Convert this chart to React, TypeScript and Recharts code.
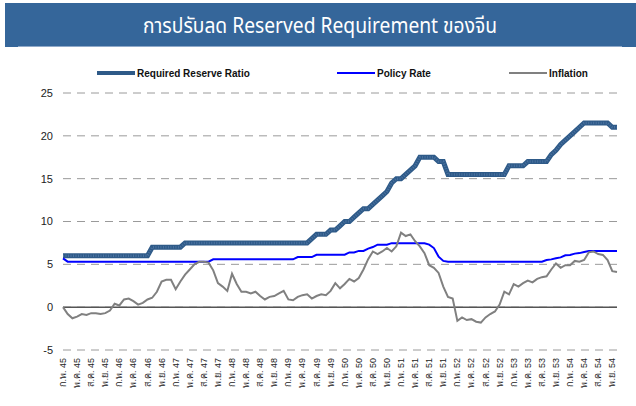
import React from 'react';
import { LineChart, Line, XAxis, YAxis, CartesianGrid, ReferenceLine } from 'recharts';

// Thai month abbreviations and Buddhist-era years (2545-2554 shown as 45-54)
const monthNames = ['ม.ค.', 'ก.พ.', 'มี.ค.', 'เม.ย.', 'พ.ค.', 'มิ.ย.', 'ก.ค.', 'ส.ค.', 'ก.ย.', 'ต.ค.', 'พ.ย.', 'ธ.ค.'];
const years = [45, 46, 47, 48, 49, 50, 51, 52, 53, 54];

// monthly series, ก.พ. 45 .. ธ.ค. 54
const rrr = [
  6, 6, 6, 6, 6, 6, 6, 6, 6, 6, 6,
  6, 6, 6, 6, 6, 6, 6, 6, 7, 7, 7, 7,
  7, 7, 7, 7.5, 7.5, 7.5, 7.5, 7.5, 7.5, 7.5, 7.5, 7.5,
  7.5, 7.5, 7.5, 7.5, 7.5, 7.5, 7.5, 7.5, 7.5, 7.5, 7.5, 7.5,
  7.5, 7.5, 7.5, 7.5, 7.5, 7.5, 8, 8.5, 8.5, 8.5, 9, 9,
  9.5, 10, 10, 10.5, 11, 11.5, 11.5, 12, 12.5, 13, 13.5, 14.5,
  15, 15, 15.5, 16, 16.5, 17.5, 17.5, 17.5, 17.5, 17, 17, 15.5,
  15.5, 15.5, 15.5, 15.5, 15.5, 15.5, 15.5, 15.5, 15.5, 15.5, 15.5, 15.5,
  16.5, 16.5, 16.5, 16.5, 17, 17, 17, 17, 17, 17.8, 18.3, 19,
  19.5, 20, 20.5, 21, 21.5, 21.5, 21.5, 21.5, 21.5, 21.5, 21, 21,
];

const policyRate = [
  5.7, 5.31, 5.31, 5.31, 5.31, 5.31, 5.31, 5.31, 5.31, 5.31, 5.31,
  5.31, 5.31, 5.31, 5.31, 5.31, 5.31, 5.31, 5.31, 5.31, 5.31, 5.31, 5.31,
  5.31, 5.31, 5.31, 5.31, 5.31, 5.31, 5.31, 5.31, 5.31, 5.58, 5.58, 5.58,
  5.58, 5.58, 5.58, 5.58, 5.58, 5.58, 5.58, 5.58, 5.58, 5.58, 5.58, 5.58,
  5.58, 5.58, 5.58, 5.85, 5.85, 5.85, 5.85, 6.12, 6.12, 6.12, 6.12, 6.12,
  6.12, 6.12, 6.39, 6.39, 6.57, 6.57, 6.84, 7.02, 7.29, 7.29, 7.29, 7.47,
  7.47, 7.47, 7.47, 7.47, 7.47, 7.47, 7.47, 7.3, 6.9, 5.9, 5.4, 5.31,
  5.31, 5.31, 5.31, 5.31, 5.31, 5.31, 5.31, 5.31, 5.31, 5.31, 5.31, 5.31,
  5.31, 5.31, 5.31, 5.31, 5.31, 5.31, 5.31, 5.31, 5.5, 5.58, 5.7, 5.81,
  6.06, 6.1, 6.25, 6.31, 6.45, 6.56, 6.56, 6.56, 6.56, 6.56, 6.56, 6.56,
];

const inflation = [
  0.0, -0.8, -1.3, -1.1, -0.8, -0.9, -0.7, -0.7, -0.8, -0.7, -0.4,
  0.4, 0.2, 0.9, 1.0, 0.7, 0.3, 0.5, 0.9, 1.1, 1.8, 3.0, 3.2,
  3.2, 2.1, 3.0, 3.8, 4.4, 5.0, 5.3, 5.3, 5.2, 4.3, 2.8, 2.4,
  1.9, 3.9, 2.7, 1.8, 1.8, 1.6, 1.8, 1.3, 0.9, 1.2, 1.3, 1.6,
  1.9, 0.9, 0.8, 1.2, 1.4, 1.5, 1.0, 1.3, 1.5, 1.4, 1.9, 2.8,
  2.2, 2.7, 3.3, 3.0, 3.4, 4.4, 5.6, 6.5, 6.2, 6.5, 6.9, 6.5,
  7.1, 8.7, 8.3, 8.5, 7.7, 7.1, 6.3, 4.9, 4.6, 4.0, 2.4, 1.2,
  1.0, -1.6, -1.2, -1.5, -1.4, -1.7, -1.8, -1.2, -0.8, -0.5, 0.3, 1.8,
  1.5, 2.7, 2.4, 2.8, 3.1, 2.9, 3.3, 3.5, 3.6, 4.4, 5.1, 4.6,
  4.9, 4.9, 5.4, 5.3, 5.5, 6.4, 6.5, 6.2, 6.1, 5.5, 4.2, 4.1,
];

const yTicks = [-5, 0, 5, 10, 15, 20, 25];

const categories: string[] = [];
years.forEach((y) => {
  monthNames.forEach((m, i) => {
    if (y === 45 && i === 0) return;
    categories.push(`${m} ${y}`);
  });
});

const data = categories.map((name, i) => ({
  name,
  rrr: rrr[i],
  policy: policyRate[i],
  inflation: inflation[i],
}));

const font = 'Arial, "Liberation Sans", sans-serif';

const XTick = (props: any) => {
  const { x, y, payload } = props;
  return (
    <g transform={`translate(${x},${y})`}>
      <text transform="rotate(-90)" x={0} y={0} dy={3} textAnchor="end" fontSize={9} fill="#222" fontFamily={font}>
        {payload.value}
      </text>
    </g>
  );
};

const legendItems = [
  { label: 'Required Reserve Ratio', color: '#2E5A88', width: 4, left: 97 },
  { label: 'Policy Rate', color: '#0000FF', width: 2, left: 337 },
  { label: 'Inflation', color: '#808080', width: 2, left: 509 },
];

export default function App() {
  return (
    <div style={{ position: 'absolute', left: 0, top: 0, width: 636, height: 406, background: '#fff', fontFamily: font }}>
      <svg width={636} height={50} style={{ position: 'absolute', left: 0, top: 0 }}>
        <rect x={5} y={3} width={631} height={44} fill="#35669A" />
        <line x1={18} x2={622} y1={46.5} y2={46.5} stroke="#8FA9C9" strokeWidth={1} />
        <text
          x={320}
          y={33}
          textAnchor="middle"
          fill="#fff"
          fontSize={22}
          fontFamily='"Noto Sans Thai", "Noto Sans", sans-serif'
          textLength={354}
          lengthAdjust="spacingAndGlyphs"
        >
          การปรับลด Reserved Requirement ของจีน
        </text>
      </svg>

      {legendItems.map((it) => (
        <div key={it.label} style={{ position: 'absolute', left: it.left, top: 66, height: 14, display: 'flex', alignItems: 'center' }}>
          <div style={{ width: 38, height: it.width, background: it.color, marginRight: 2 }} />
          <span style={{ fontSize: 10, fontWeight: 'bold', color: '#111' }}>{it.label}</span>
        </div>
      ))}

      <div style={{ position: 'absolute', left: 0, top: 0 }}>
        <LineChart width={636} height={406} data={data} margin={{ top: 93, right: 19, bottom: 0, left: 8 }}>
          <CartesianGrid vertical={false} strokeDasharray="8 6" stroke="#9a9a9a" />
          <XAxis
            dataKey="name"
            interval={2}
            height={56}
            axisLine={false}
            tickLine={false}
            tick={<XTick />}
          />
          <YAxis
            domain={[-5, 25]}
            ticks={yTicks}
            width={55}
            axisLine={false}
            tickLine={false}
            tickMargin={4}
            tick={{ fill: '#222', fontSize: 11, fontFamily: font }}
          />
          <ReferenceLine y={0} stroke="#555" strokeWidth={1.5} />
          <Line type="linear" dataKey="rrr" stroke="#2E5A88" strokeWidth={5} dot={false} isAnimationActive={false} />
          <Line type="linear" dataKey="rrr" stroke="#4B72A0" strokeWidth={2.5} strokeDasharray="1 1.5" dot={false} isAnimationActive={false} legendType="none" />
          <Line type="linear" dataKey="policy" stroke="#0000FF" strokeWidth={2} dot={false} isAnimationActive={false} />
          <Line type="linear" dataKey="inflation" stroke="#808080" strokeWidth={2} dot={false} isAnimationActive={false} />
        </LineChart>
      </div>
    </div>
  );
}
